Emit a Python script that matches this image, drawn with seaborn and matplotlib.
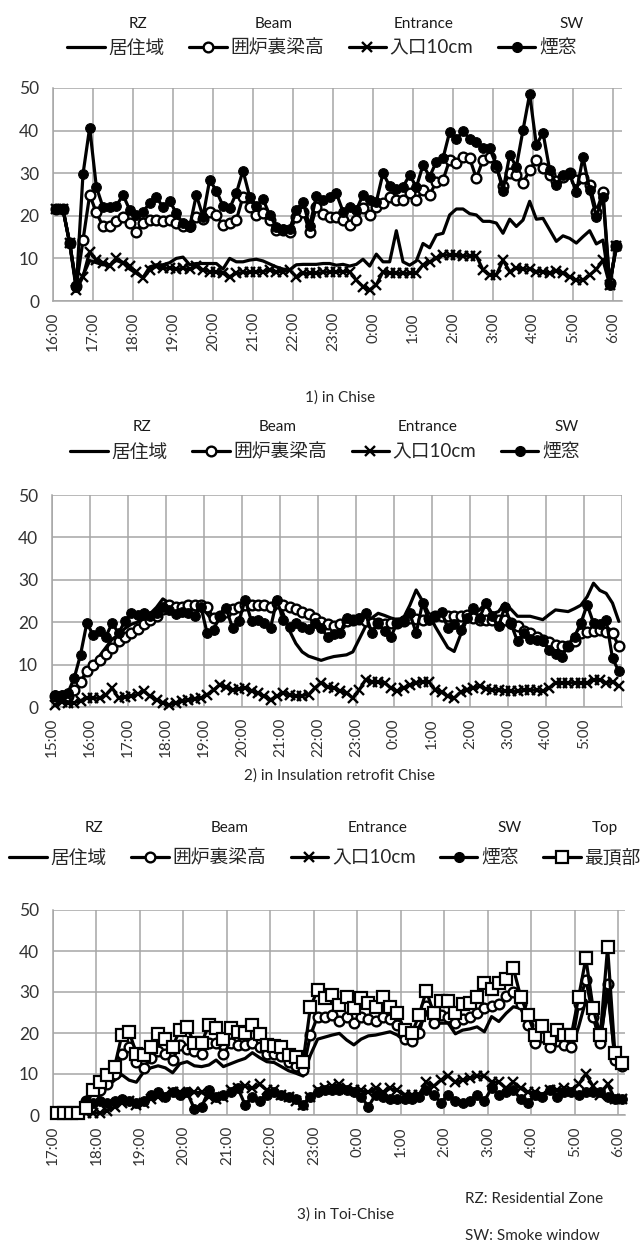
import numpy as np
import pandas as pd
import matplotlib
matplotlib.use("Agg")
import matplotlib.pyplot as plt
from matplotlib.lines import Line2D
import seaborn as sns

sns.set_theme(style="white")
plt.rcParams['font.family'] = ['Lato', 'Noto Sans CJK JP', 'DejaVu Sans']

# ---------------- data (10-minute readings) ----------------
# 1) Chise: 16:05 - 6:05
chise_rz = [21.5, 21.5, 13.5, 3.5, 6, 9.5, 9, 8.5, 8.5, 9.5, 9, 7.5, 6.5, 5.5, 8, 8.5, 8.5, 9, 10, 10.3,
            8.5, 8.8, 8.8, 8.8, 8.8, 7.5, 10, 9.2, 9.2, 9.6, 9.8, 9.4, 8.7, 8, 7.5, 7.3, 8.5, 8.6, 8.6, 8.6,
            8.8, 8.8, 8.4, 8.6, 8.2, 8.6, 9.8, 8.2, 11, 9.2, 9.2, 16.5, 9.2, 8.4, 9.4, 13.5, 12.5, 15.5, 15.9, 20.2,
            21.6, 21.6, 20.5, 20.2, 18.7, 18.7, 18.3, 15.9, 19.2, 17.5, 19, 23.4, 19.2, 19.4, 16.7, 14, 15.3, 14.7, 13.6, 15.1,
            16.5, 13.4, 14.3, 3.8, 12.8]
chise_beam = [21.5, 21.5, 13.7, 3.5, 14.3, 24.9, 20.8, 17.5, 17.5, 18.7, 19.8, 18.3, 16.3, 18.3, 18.9, 19, 18.7, 19, 18.3, 17.5,
              17.5, 19.8, 19.2, 21, 20.2, 17.8, 18.3, 19, 24.5, 22.1, 20.2, 20.6, 19, 16.6, 16.6, 16.3, 19.8, 21, 16.3, 22.1,
              20.5, 19.8, 19.8, 19, 17.8, 19, 21.8, 20.2, 22.1, 22.9, 24.5, 23.7, 23.7, 25.3, 23.7, 26, 24.9, 28, 28.4, 33.1,
              32.4, 33.9, 33.5, 28.8, 33.1, 33.9, 31.4, 26.9, 30, 29.6, 27.7, 30.8, 33.1, 31.2, 29.6, 28.1, 29.2, 30, 28.4, 28.8,
              27.3, 21, 25.5, 4.2, 12.8]
chise_entr = [21.5, 21.5, 13.5, 2.6, 5.7, 11.6, 9.6, 9, 8.1, 10, 9, 8.1, 6.9, 5.3, 7.3, 8.1, 7.7, 7.7, 7.4, 7.7,
              7.4, 8.1, 7.3, 6.9, 6.9, 6.5, 5.7, 6.5, 6.7, 6.7, 6.9, 6.9, 7.3, 6.9, 6.9, 7.3, 5.7, 6.5, 6.5, 6.5,
              6.7, 6.9, 6.9, 6.9, 6.9, 4.9, 3.4, 2.6, 3.8, 6.9, 6.5, 6.5, 6.5, 6.5, 6.5, 8.5, 9.2, 10, 10.8, 10.8,
              10.8, 10.6, 10.6, 10.6, 7.3, 6.1, 6.1, 9.6, 6.9, 7.7, 7.5, 7.5, 6.9, 6.9, 6.5, 7.1, 6.5, 5.7, 4.9, 4.9,
              6.1, 7.4, 9.6, 3.8, 12.8]
chise_sw = [21.5, 21.5, 13.7, 3.4, 29.8, 40.7, 26.8, 22, 22, 22.3, 24.9, 21.4, 20.2, 21, 22.9, 24.3, 22.1, 23.5, 20.6, 18.2,
            17.4, 24.9, 19.8, 28.4, 25.9, 22.3, 21.8, 25.3, 30.6, 24.5, 22.3, 23.9, 20.2, 17.4, 16.9, 16.9, 21.4, 23.3, 17.5, 24.6,
            23.7, 24.3, 25.3, 21, 22.1, 21.4, 24.9, 23.7, 23.3, 30, 27, 26.4, 26.8, 29.6, 26.7, 31.9, 29.2, 32.7, 33.5, 39.7,
            38, 39.8, 38.1, 37.3, 35.9, 35.8, 31.9, 25.9, 34.3, 31.5, 40.1, 48.6, 36.6, 39.5, 30.8, 27.3, 29.6, 29.9, 25.5, 33.8,
            26.1, 19.8, 24.5, 3.8, 13.2]
chise_ticks = ["16:00", "17:00", "18:00", "19:00", "20:00", "21:00", "22:00", "23:00",
               "0:00", "1:00", "2:00", "3:00", "4:00", "5:00", "6:00"]

# 2) Insulation retrofit Chise: 15:05 - 5:55
retro_rz = [2, 1.5, 2, 4, 6, 8, 10, 12, 14, 16, 17, 18.5, 19.5, 20, 21, 22, 23.5, 25.5, 24.5, 24,
            23.5, 24, 24, 23.5, 22, 20, 21.5, 22.5, 23, 22.5, 23.5, 23.5, 23.5, 23.5, 23, 25, 22, 18, 15, 13,
            12, 11.5, 11, 11.5, 11.9, 12.1, 12.3, 13, 16, 19, 21, 22.1, 21.6, 21, 20.6, 21, 24, 27.6, 25, 22,
            19, 16.5, 14, 13.1, 17, 20.6, 21.8, 22.9, 24.5, 22, 22.5, 24.5, 23, 21.4, 21.4, 21.4, 21, 20.6, 21.8, 22.9,
            22.7, 22.5, 23.2, 24, 26, 29.2, 27.5, 26.8, 24.5, 20.2]
retro_beam = [2.5, 2.5, 2.5, 4, 6, 8.5, 10, 11, 12.5, 14, 15.5, 16.5, 17.5, 18.5, 19.5, 20.5, 21.5, 23, 24, 23.5,
              23.5, 24, 24, 24, 23.5, 21, 21.5, 22.5, 23, 23.5, 24, 24, 24, 24, 23.5, 24.5, 24, 23.5, 23, 22.5,
              22, 21, 20, 19.5, 19, 19.5, 20.2, 20.5, 20.7, 20.2, 19.8, 19.7, 19.6, 19.7, 19.8, 20.4, 21, 20.8, 20.6, 21,
              21.4, 21.4, 21.4, 21.4, 21.5, 21.7, 21, 20.6, 20.6, 20.6, 20.6, 20.6, 19.8, 19, 18, 17.4, 16.6, 15.9, 15.3, 14.7,
              14.5, 14.3, 15.5, 17.4, 17.8, 18, 18.2, 17.8, 17.4, 14.3]
retro_entr = [0.5, 1.2, 1, 1, 1.5, 2.1, 2.1, 2.1, 2.8, 4.5, 2.1, 2.3, 2.5, 3, 3.7, 2.5, 1.7, 1, 0.5, 1,
              1.3, 1.6, 2, 2.1, 2.9, 4, 5.3, 4.6, 4.1, 4.2, 4.5, 3.8, 3.3, 2.5, 1.7, 2.5, 3.3, 2.8, 2.5, 2.7,
              2.9, 4.5, 5.7, 4.8, 4.5, 3.8, 3.3, 2.1, 4, 6.4, 6, 5.8, 5.7, 4.5, 3.7, 4.5, 5.2, 5.7, 6, 6,
              4, 3.5, 2.5, 2.1, 3.5, 4.1, 4.5, 4.9, 4.3, 4.1, 3.9, 3.7, 3.7, 3.7, 3.9, 4.1, 3.9, 3.7, 4.5, 5.7,
              5.7, 5.7, 5.7, 5.7, 5.7, 6.4, 6.4, 5.7, 6, 4.9]
retro_sw = [2.9, 2.9, 3.3, 6.8, 12.3, 19.8, 17, 18, 16.6, 19.8, 17.4, 20.2, 22.1, 21.7, 22.1, 21.4, 22.1, 23.7, 22.9, 21.9,
            22.5, 22.1, 21.4, 23.7, 17.4, 18.2, 21.4, 23.3, 18.6, 20.2, 25.3, 20.2, 20.6, 19.8, 18.6, 25.3, 20.6, 18.8, 19.8, 18.8,
            18.4, 19.9, 18.6, 16.6, 17.2, 17.4, 21, 20.6, 21, 22.1, 17.4, 19.8, 18, 16.6, 19.8, 20.5, 22.1, 17.4, 24.5, 20.6,
            21.5, 22.5, 18.6, 19.5, 18.2, 21, 23.3, 21, 24.5, 21.5, 19, 23.7, 19.5, 15.5, 17.4, 16, 15.9, 15.5, 13.5, 12.5,
            11.9, 14.5, 16.6, 19.8, 24.1, 19.8, 19.5, 20.6, 11.5, 8.4]
retro_ticks = ["15:00", "16:00", "17:00", "18:00", "19:00", "20:00", "21:00", "22:00",
               "23:00", "0:00", "1:00", "2:00", "3:00", "4:00", "5:00", ""]

# 3) Toi-Chise: 17:05 - 6:05 (sensors other than the top start at 17:45)
toi_rz = [None] * 4 + [3, 4.5, 5.5, 7, 8.5, 9.8, 8.5, 8, 10.5, 11.5, 12, 11.5, 10.3, 12.5, 13, 12,
                       11.8, 12.2, 13.4, 11.8, 12.5, 13.2, 13.8, 15.2, 14, 13, 12.8, 11.8, 10.8, 10.2, 9.5, 14.6,
                       18.5, 19, 19.5, 19.9, 18.3, 17.1, 18.5, 19.3, 19.5, 19.9, 20.3, 19.5, 18, 17.1, 21.5, 24.8,
                       22.4, 22.4, 22.4, 19.8, 20.7, 21, 21.5, 20.3, 24, 22.8, 24.8, 26.4, 26, 22.4, 19.9, 19.1,
                       18.3, 17.5, 16.7, 16, 21.5, 28, 24, 18.3, 30.5, 14.2, 12.6]
toi_beam = [None] * 4 + [3.5, 4.5, 6, 7.5, 10, 15, 16.5, 13, 11.5, 14, 15.5, 15, 13.5, 17, 16, 15.5,
                         15, 17.5, 17.5, 15, 17.5, 17, 17, 17.5, 16.5, 15, 15, 14.5, 13, 12, 11, 19.5,
                         24, 24, 24.5, 23, 24, 22.5, 24, 23.5, 23, 24, 23.5, 22, 18.5, 18, 20, 26.5,
                         22.5, 24.5, 24, 22.5, 23.5, 24, 25, 26, 26.5, 27, 29, 30, 27, 22, 17.5, 19,
                         16.5, 18, 17, 16.5, 27, 33, 24, 17.5, 32, 13.5, 12]
toi_entr = [None] * 4 + [0.5, 0.5, 0.5, 1, 2, 3, 3.5, 2.5, 3, 4, 4.5, 5, 5.5, 5.5, 5, 5.5,
                         5.5, 4.5, 4, 4.5, 6, 6.5, 7, 6.5, 7.5, 6, 6, 5, 4.5, 3.5, 2.5, 4.5,
                         6, 6.5, 7, 7.5, 6.5, 6, 6, 5.5, 6.5, 5.5, 6.5, 6, 5, 5, 5, 8,
                         7, 8.5, 9.5, 8, 8.5, 9, 9.5, 9.5, 8, 8, 6.5, 8, 6.5, 5.5, 5.5, 5,
                         6, 6, 6.5, 6, 7.5, 10, 7, 5, 7.5, 4, 4]
toi_sw = [None] * 4 + [3.5, 3, 3.5, 3, 3.5, 4, 3.5, 3, 3.5, 5, 5.5, 4.5, 5.5, 5, 5.5, 1.5,
                       2, 6, 4.5, 5, 5.5, 6.5, 2.5, 4.5, 3.5, 5, 5.5, 5, 4.5, 4, 2.5, 4.5,
                       5.5, 6, 6, 6, 6, 5.5, 4.5, 2, 5, 4.5, 4, 4, 4, 4, 4.5, 6,
                       5, 3, 5, 3.5, 3, 3.5, 5, 3.5, 6.5, 5, 5.5, 6, 4, 3, 5, 4.5,
                       6, 4.5, 5.5, 5.5, 5, 5.5, 5.5, 5.5, 4.5, 4, 4]
toi_top = [0.4, 0.4, 0.4, 0.4, 1.6, 6.1, 8.1, 9.8, 11.8, 19.5, 20.3, 15, 14.6, 16.7, 19.8, 18.5, 16.7, 20.7, 21.4, 17.5,
           17.6, 22, 21.1, 18.5, 21.1, 20.3, 19.9, 22, 19.8, 17.1, 16.9, 16.5, 14.6, 14.1, 13, 26.3, 30.5, 28.5, 29.3, 26.8,
           28.7, 26, 28.5, 27.2, 26.4, 28.7, 26.4, 24.8, 20.7, 19.9, 24.4, 30.3, 24.8, 27.9, 27.9, 24.8, 27.1, 27.2, 28.9, 32.3,
           30.7, 32.3, 33.1, 35.8, 28.9, 24.4, 19.5, 21.7, 18.7, 20.7, 19.5, 19.5, 28.7, 38.2, 26, 19.5, 40.9, 15.2, 12.8]
toi_ticks = ["17:00", "18:00", "19:00", "20:00", "21:00", "22:00", "23:00",
             "0:00", "1:00", "2:00", "3:00", "4:00", "5:00", "6:00"]

jp_names = ["居住域", "囲炉裏梁高", "入口10cm", "煙窓", "最頂部"]
en_names = ["RZ", "Beam", "Entrance", "SW", "Top"]

# ---------------- styling ----------------
INK = "black"
GRID = "#a6a6a6"
LW = 2.3
styles = [
    dict(marker=None),
    dict(marker="o", markersize=7, markerfacecolor="white", markeredgecolor=INK, markeredgewidth=1.7),
    dict(marker="x", markersize=7.5, markeredgecolor=INK, markeredgewidth=1.7),
    dict(marker="o", markersize=7, markerfacecolor=INK, markeredgecolor=INK),
    dict(marker="s", markersize=8, markerfacecolor="white", markeredgecolor=INK, markeredgewidth=1.6),
]

W, H = 641, 1246
fig = plt.figure(figsize=(W / 100, H / 100), dpi=100)


def px_axes(x0, y0, x1, y1):
    return fig.add_axes([x0 / W, 1 - y1 / H, (x1 - x0) / W, (y1 - y0) / H])


def draw_panel(ax, series, start_offset, xmax, ticks):
    n = len(series[0])
    t = start_offset + np.arange(n) / 6.0
    for i, vals in enumerate(series):
        df = pd.DataFrame({"t": t, "v": pd.to_numeric(pd.Series(vals), errors="coerce")})
        sns.lineplot(data=df, x="t", y="v", ax=ax, color=INK, lw=LW, zorder=3 + i,
                     clip_on=False, **styles[i])
    ax.set_xlim(0, xmax)
    ax.set_ylim(0, 50)
    ax.set_xticks(range(len(ticks)))
    ax.set_xticklabels(ticks, rotation=90)
    ax.set_yticks(range(0, 51, 10))
    ax.set_xlabel("")
    ax.set_ylabel("")
    ax.grid(True, color=GRID, lw=1.1)
    ax.set_axisbelow(True)
    for s in ["top", "right"]:
        ax.spines[s].set_visible(False)
    for s in ["left", "bottom"]:
        ax.spines[s].set_color(GRID)
        ax.spines[s].set_linewidth(1.1)
    ax.tick_params(axis="both", length=5, width=1.1, color=GRID, labelsize=11,
                   labelcolor="#333333", pad=3)
    ax.tick_params(axis="y", labelsize=12.5, pad=5)


def legend_row(n, y_row, x_center, y_head, head_x, fs):
    handles = [Line2D([], [], color=INK, lw=LW, **styles[i]) for i in range(n)]
    fig.legend(handles, jp_names[:n], loc="center", bbox_to_anchor=(x_center / W, 1 - y_row / H),
               ncol=n, frameon=False, fontsize=fs, handlelength=2.0, handletextpad=0.2,
               columnspacing=1.3, borderaxespad=0, borderpad=0)
    for name, hx in zip(en_names[:n], head_x):
        fig.text(hx / W, 1 - y_head / H, name, ha="center", va="center", fontsize=11, color="#1a1a1a")


ax1 = px_axes(53, 88, 622, 301)
draw_panel(ax1, [chise_rz, chise_beam, chise_entr, chise_sw], 5 / 60, 14.225, chise_ticks)
legend_row(4, 48, 322, 24, [138, 274, 424, 572], 13.5)
fig.text(340 / W, 1 - 398 / H, "1) in Chise", ha="center", va="center", fontsize=11)

ax2 = px_axes(52, 495, 622, 707)
draw_panel(ax2, [retro_rz, retro_beam, retro_entr, retro_sw], 5 / 60, 15.0, retro_ticks)
legend_row(4, 452, 325, 427, [142, 278, 428, 567], 13.5)
fig.text(340 / W, 1 - 776 / H, "2) in Insulation retrofit Chise", ha="center", va="center", fontsize=11)

ax3 = px_axes(53, 910, 625, 1115)
draw_panel(ax3, [toi_rz, toi_beam, toi_entr, toi_sw, toi_top], 5 / 60, 13.15, toi_ticks)
legend_row(5, 858, 325, 828, [94, 230, 378, 510, 605], 13.5)
fig.text(346 / W, 1 - 1215 / H, "3) in Toi-Chise", ha="center", va="center", fontsize=11)
fig.text(465 / W, 1 - 1199 / H, "RZ: Residential Zone", ha="left", va="center", fontsize=11)
fig.text(465 / W, 1 - 1236 / H, "SW: Smoke window", ha="left", va="center", fontsize=11)

fig.savefig("out.png", dpi=100, facecolor="white")
